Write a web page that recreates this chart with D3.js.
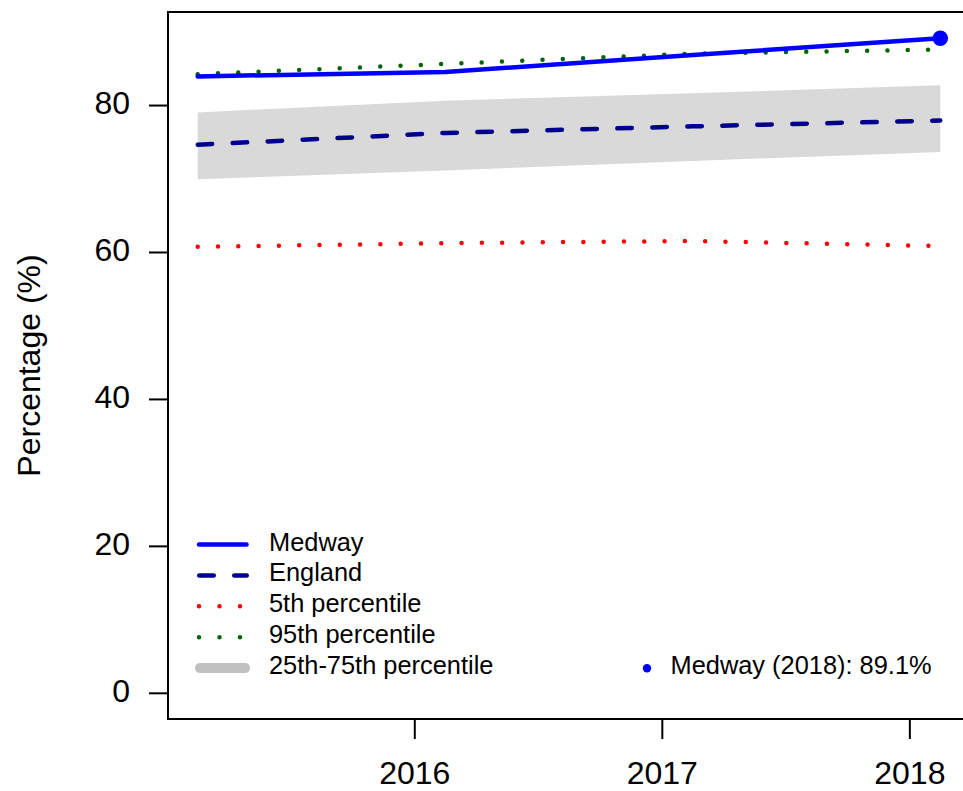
<!DOCTYPE html>
<html>
<head>
<meta charset="utf-8">
<script src="https://cdn.jsdelivr.net/npm/d3@7"></script>
<style>
  html, body { margin: 0; padding: 0; background: #fff; }
  svg { display: block; font-family: "Liberation Sans", Arial, sans-serif; }
</style>
</head>
<body>
<svg id="chart" width="963" height="791"></svg>
<script>
// ---- data ----
const periods   = [2015.125, 2016.125, 2017.125, 2018.125];
const medway    = [83.9, 84.5, 86.8, 89.1];
const england   = [74.6, 76.2, 77.1, 77.9];
const p5        = [60.7, 61.2, 61.5, 60.8];
const p95       = [84.2, 85.6, 87.0, 87.55];
const p25       = [69.9, 71.1, 72.4, 73.6];
const p75       = [79.0, 80.6, 81.6, 82.7];
const xTicks    = [2016, 2017, 2018];
const yTicks    = [0, 20, 40, 60, 80];
const legendLabels = ["Medway", "England", "5th percentile", "95th percentile", "25th-75th percentile"];
const latestLabel  = "Medway (2018): 89.1%";

// ---- layout ----
const L = 168, R = 970, T = 12, B = 719;
const svg = d3.select("#chart");

// R style 4% expansion
const xr = [d3.min(periods), d3.max(periods)];
const xpad = (xr[1] - xr[0]) * 0.04;
const x = d3.scaleLinear().domain([xr[0] - xpad, xr[1] + xpad]).range([L, R]);
const yr = [0, d3.max(medway)];
const ypad = (yr[1] - yr[0]) * 0.04;
const y = d3.scaleLinear().domain([yr[0] - ypad, yr[1] + ypad]).range([B, T]);

const idx = d3.range(periods.length);

// band
const area = d3.area().x(i => x(periods[i])).y0(i => y(p25[i])).y1(i => y(p75[i]));
svg.append("path").attr("d", area(idx)).attr("fill", "#d9d9d9");

const lineOf = arr => d3.line().x(i => x(periods[i])).y(i => y(arr[i]))(idx);

// 5th percentile
svg.append("path").attr("d", lineOf(p5)).attr("fill", "none")
  .attr("stroke", "#ff0000").attr("stroke-width", 4.5)
  .attr("stroke-linecap", "round").attr("stroke-dasharray", "0 20.3");
// England
svg.append("path").attr("d", lineOf(england)).attr("fill", "none")
  .attr("stroke", "#00008b").attr("stroke-width", 4.5)
  .attr("stroke-linecap", "round").attr("stroke-dasharray", "14.5 20.5");
// 95th
svg.append("path").attr("d", lineOf(p95)).attr("fill", "none")
  .attr("stroke", "#006400").attr("stroke-width", 4.5)
  .attr("stroke-linecap", "round").attr("stroke-dasharray", "0 20.3");
// Medway
svg.append("path").attr("d", lineOf(medway)).attr("fill", "none")
  .attr("stroke", "#0000ff").attr("stroke-width", 4.5)
  .attr("stroke-linecap", "round").attr("stroke-linejoin", "round");
const last = periods.length - 1;
svg.append("circle").attr("cx", x(periods[last])).attr("cy", y(medway[last]))
  .attr("r", 7.8).attr("fill", "#0000ff");

// box
svg.append("rect").attr("x", L).attr("y", T).attr("width", R - L).attr("height", B - T)
  .attr("fill", "none").attr("stroke", "#000").attr("stroke-width", 2);

// axes
const yAxis = d3.axisLeft(y).tickValues(yTicks).tickSize(19).tickPadding(0).tickFormat(d3.format("d"));
const gy = svg.append("g").attr("transform", `translate(${L},0)`).call(yAxis);
gy.select(".domain").remove();
gy.selectAll(".tick line").attr("stroke", "#000").attr("stroke-width", 2);
gy.selectAll(".tick text").attr("x", -38).attr("dy", null).attr("y", 8.5)
  .attr("font-size", 32).attr("fill", "#000").attr("text-anchor", "end")
  .attr("font-family", "Liberation Sans, Arial, sans-serif");

const xAxis = d3.axisBottom(x).tickValues(xTicks).tickSize(20).tickPadding(0).tickFormat(d3.format("d"));
const gx = svg.append("g").attr("transform", `translate(0,${B})`).call(xAxis);
gx.select(".domain").remove();
gx.selectAll(".tick line").attr("stroke", "#000").attr("stroke-width", 2);
gx.selectAll(".tick text").attr("y", 65).attr("dy", null)
  .attr("font-size", 32).attr("fill", "#000")
  .attr("font-family", "Liberation Sans, Arial, sans-serif");

// y title
svg.append("text").attr("transform", `translate(40,${(T + B) / 2}) rotate(-90)`)
  .attr("text-anchor", "middle").attr("font-size", 32).attr("fill", "#000")
  .text("Percentage (%)");

// legend
const legStyles = [
  {stroke: "#0000ff", w: 4.5, dash: null, x1: 199, x2: 246.5},
  {stroke: "#00008b", w: 4.5, dash: "14.5 20.5", x1: 199.25, x2: 246.75},
  {stroke: "#ff0000", w: 4.5, dash: "0 20.5", x1: 199, x2: 246.5},
  {stroke: "#006400", w: 4.5, dash: "0 20.5", x1: 199, x2: 246.5},
  {stroke: "#c0c0c0", w: 10, dash: null, x1: 200, x2: 245}
];
const leg = svg.append("g");
legendLabels.forEach((lab, i) => {
  const ly = 544.5 + i * 30.9;
  const s = legStyles[i];
  const ln = leg.append("line").attr("x1", s.x1).attr("x2", s.x2).attr("y1", ly).attr("y2", ly)
    .attr("stroke", s.stroke).attr("stroke-width", s.w).attr("stroke-linecap", "round");
  if (s.dash) ln.attr("stroke-dasharray", s.dash);
  leg.append("text").attr("x", 269).attr("y", ly + 6).attr("font-size", 25.4).attr("fill", "#000").text(lab);
});
svg.append("circle").attr("cx", 647).attr("cy", 668.3).attr("r", 4.2).attr("fill", "#0000ff");
svg.append("text").attr("x", 670.5).attr("y", 673.5).attr("font-size", 25.4).attr("fill", "#000").text(latestLabel);
</script>
</body>
</html>
